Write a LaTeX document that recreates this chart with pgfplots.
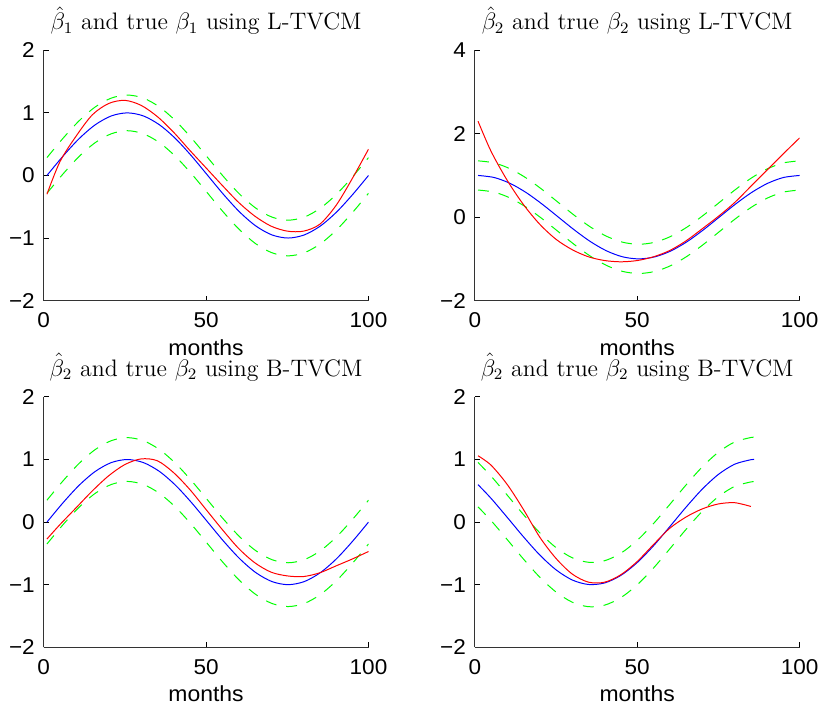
\documentclass[border=0pt]{standalone}
\usepackage{fontspec}
\newfontfamily\axisfont[FakeStretch=1.05]{Liberation Sans}
\usepackage{pgfplots}
\usepackage{pgfplotstable}
\pgfplotsset{compat=1.18}
\usepgfplotslibrary{groupplots}

% panel 1: true beta1 (b) with band (up, lo)
\pgfplotstableread{
x b up lo
1 0 0.285 -0.285
5.95 0.309 0.594 0.024
10.9 0.588 0.873 0.303
15.85 0.809 1.094 0.524
20.8 0.951 1.236 0.666
25.75 1 1.285 0.715
30.7 0.951 1.236 0.666
35.65 0.809 1.094 0.524
40.6 0.588 0.873 0.303
45.55 0.309 0.594 0.024
50.5 0 0.285 -0.285
55.45 -0.309 -0.024 -0.594
60.4 -0.588 -0.303 -0.873
65.35 -0.809 -0.524 -1.094
70.3 -0.951 -0.666 -1.236
75.25 -1 -0.715 -1.285
80.2 -0.951 -0.666 -1.236
85.15 -0.809 -0.524 -1.094
90.1 -0.588 -0.303 -0.873
95.05 -0.309 -0.024 -0.594
100 0 0.285 -0.285
}\tA
\pgfplotstableread{
x r
1 -0.30
5 0.22
10 0.63
15 0.97
20 1.15
25 1.20
30 1.12
35 0.94
40 0.69
45 0.40
50 0.12
55 -0.16
60 -0.43
65 -0.65
70 -0.81
75 -0.89
80 -0.89
85 -0.78
90 -0.48
95 -0.05
100 0.42
}\rA

% panel 2
\pgfplotstableread{
x b up lo
1 1 1.35 0.65
5.95 0.951 1.301 0.601
10.9 0.809 1.159 0.459
15.85 0.588 0.938 0.238
20.8 0.309 0.659 -0.041
25.75 0 0.35 -0.35
30.7 -0.309 0.041 -0.659
35.65 -0.588 -0.238 -0.938
40.6 -0.809 -0.459 -1.159
45.55 -0.951 -0.601 -1.301
50.5 -1 -0.65 -1.35
55.45 -0.951 -0.601 -1.301
60.4 -0.809 -0.459 -1.159
65.35 -0.588 -0.238 -0.938
70.3 -0.309 0.041 -0.659
75.25 0 0.35 -0.35
80.2 0.309 0.659 -0.041
85.15 0.588 0.938 0.238
90.1 0.809 1.159 0.459
95.05 0.951 1.301 0.601
100 1 1.35 0.65
}\tB
\pgfplotstableread{
x r
1 2.30
5 1.58
10 0.88
15 0.30
20 -0.17
25 -0.53
30 -0.78
35 -0.95
40 -1.04
45 -1.07
50 -1.04
55 -0.95
60 -0.80
65 -0.57
70 -0.28
75 0.02
80 0.35
85 0.74
90 1.13
95 1.52
100 1.90
}\rB

% panel 3
\pgfplotstableread{
x b up lo
1 0 0.35 -0.35
5.95 0.309 0.659 -0.041
10.9 0.588 0.938 0.238
15.85 0.809 1.159 0.459
20.8 0.951 1.301 0.601
25.75 1 1.35 0.65
30.7 0.951 1.301 0.601
35.65 0.809 1.159 0.459
40.6 0.588 0.938 0.238
45.55 0.309 0.659 -0.041
50.5 0 0.35 -0.35
55.45 -0.309 0.041 -0.659
60.4 -0.588 -0.238 -0.938
65.35 -0.809 -0.459 -1.159
70.3 -0.951 -0.601 -1.301
75.25 -1 -0.65 -1.35
80.2 -0.951 -0.601 -1.301
85.15 -0.809 -0.459 -1.159
90.1 -0.588 -0.238 -0.938
95.05 -0.309 0.041 -0.659
100 0 0.35 -0.35
}\tC
\pgfplotstableread{
x r
1 -0.27
5 -0.04
10 0.23
15 0.50
20 0.74
25 0.92
30 1.01
35 0.98
40 0.79
45 0.52
50 0.20
55 -0.12
60 -0.42
65 -0.65
70 -0.80
75 -0.86
80 -0.87
85 -0.81
90 -0.70
95 -0.59
100 -0.47
}\rC

% panel 4
\pgfplotstableread{
x b up lo
1 0.598 0.953 0.243
5 0.380 0.735 0.025
10 0.075 0.430 -0.280
15 -0.236 0.119 -0.591
20 -0.525 -0.170 -0.880
25 -0.762 -0.407 -1.117
30 -0.925 -0.570 -1.280
35 -0.997 -0.642 -1.352
40 -0.972 -0.617 -1.327
45 -0.851 -0.496 -1.206
50 -0.647 -0.292 -1.002
55 -0.380 -0.025 -0.735
60 -0.075 0.280 -0.430
65 0.236 0.591 -0.119
70 0.525 0.880 0.170
75 0.762 1.117 0.407
80 0.925 1.280 0.570
85 0.997 1.352 0.642
86 1.000 1.355 0.645
}\tD
\pgfplotstableread{
x r
1 1.06
5 0.91
10 0.60
15 0.20
20 -0.24
25 -0.58
30 -0.83
35 -0.96
40 -0.96
45 -0.84
50 -0.63
55 -0.36
60 -0.10
65 0.08
70 0.21
75 0.29
80 0.31
85 0.25
}\rD

\definecolor{mblue}{RGB}{0,0,255}
\definecolor{mred}{RGB}{255,0,0}
\definecolor{mgreen}{RGB}{0,255,0}

\pgfplotsset{
  mat/.style={
    scale only axis, width=163.5pt, height=126pt,
    axis lines=left,
    axis line style={-, black!80, line width=0.6pt},
    tick align=inside, major tick length=2.5pt,
    tick style={black, line width=0.5pt},
    xmin=0, xmax=100,
    xtick={0,50,100}, xticklabels={0,50,100},
    ticklabel style={font=\axisfont\fontsize{10.8}{12}\selectfont},
    xticklabel style={yshift=-2.5pt},
    yticklabel style={xshift=-1pt},
    xlabel={months},
    xlabel style={font=\axisfont\fontsize{11}{12}\selectfont, yshift=1pt},
    title style={font=\fontsize{12}{14}\selectfont, yshift=-1.5pt},
    every axis plot/.append style={line width=0.5pt, no markers},
  },
  bl/.style={mblue, smooth},
  rd/.style={mred, smooth},
  gr/.style={mgreen, smooth, dash pattern=on 5.5pt off 5pt},
}

\begin{document}
\begin{tikzpicture}
\begin{groupplot}[group style={group size=2 by 2, horizontal sep=53.5pt, vertical sep=48.5pt}, mat]
\nextgroupplot[ymin=-2, ymax=2, ytick={-2,-1,0,1,2}, yticklabels={−2,−1,0,1,2},
  title={$\hat{\beta}_1$ and true $\beta_1$ using L-TVCM}]
\coordinate (O) at (rel axis cs:0,0);
\addplot[gr] table[x=x,y=up] {\tA};
\addplot[gr] table[x=x,y=lo] {\tA};
\addplot[bl] table[x=x,y=b] {\tA};
\addplot[rd] table[x=x,y=r] {\rA};

\nextgroupplot[ymin=-2, ymax=4, ytick={-2,0,2,4}, yticklabels={−2,0,2,4},
  title={$\hat{\beta}_2$ and true $\beta_2$ using L-TVCM}]
\addplot[gr] table[x=x,y=up] {\tB};
\addplot[gr] table[x=x,y=lo] {\tB};
\addplot[bl] table[x=x,y=b] {\tB};
\addplot[rd] table[x=x,y=r] {\rB};

\nextgroupplot[ymin=-2, ymax=2, ytick={-2,-1,0,1,2}, yticklabels={−2,−1,0,1,2},
  title={$\hat{\beta}_2$ and true $\beta_2$ using B-TVCM}]
\addplot[gr] table[x=x,y=up] {\tC};
\addplot[gr] table[x=x,y=lo] {\tC};
\addplot[bl] table[x=x,y=b] {\tC};
\addplot[rd] table[x=x,y=r] {\rC};

\nextgroupplot[ymin=-2, ymax=2, ytick={-2,-1,0,1,2}, yticklabels={−2,−1,0,1,2},
  title={$\hat{\beta}_2$ and true $\beta_2$ using B-TVCM}]
\addplot[gr] table[x=x,y=up] {\tD};
\addplot[gr] table[x=x,y=lo] {\tD};
\addplot[bl] table[x=x,y=b] {\tD};
\addplot[rd] table[x=x,y=r] {\rD};
\end{groupplot}
\path[use as bounding box] ([shift={(-22pt,-206.5pt)}]O) rectangle ++(412.5pt,355pt);
\end{tikzpicture}
\end{document}
